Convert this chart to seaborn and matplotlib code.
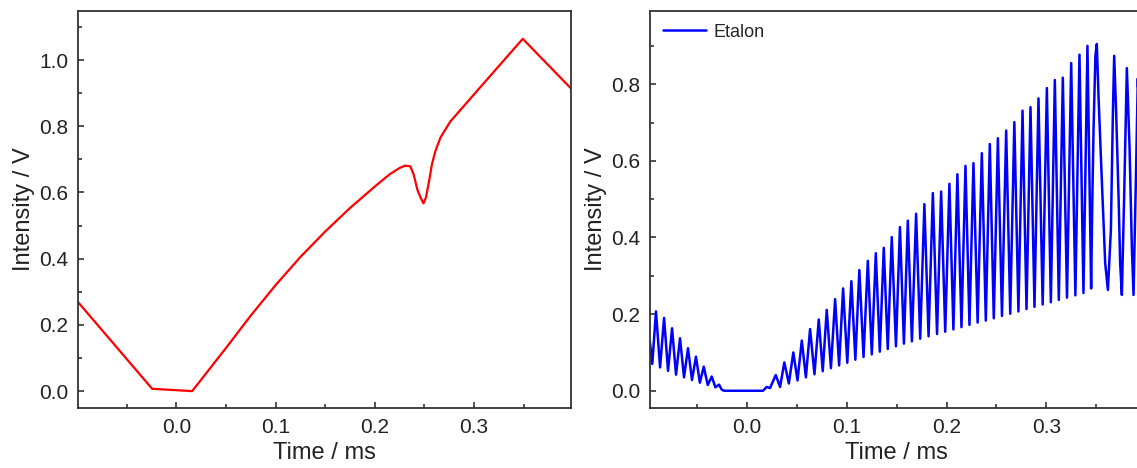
import matplotlib
matplotlib.use("Agg")
import matplotlib.pyplot as plt
import seaborn as sns
from matplotlib.ticker import MultipleLocator, FormatStrFormatter

# Left panel: laser scan with absorption dip
scan_time = [-0.099, -0.0243, 0.016, 0.05, 0.075, 0.10, 0.125, 0.15, 0.175, 0.20,
             0.215, 0.225, 0.2306, 0.2357, 0.239, 0.243, 0.246, 0.249, 0.2515, 0.255,
             0.2575, 0.261, 0.266, 0.270, 0.276, 0.285, 0.306, 0.349, 0.3976]
scan_intensity = [0.269, 0.007, 0.0, 0.13, 0.228, 0.32, 0.405, 0.482, 0.553, 0.618,
                  0.655, 0.674, 0.681, 0.679, 0.655, 0.607, 0.585, 0.567, 0.585, 0.64,
                  0.685, 0.725, 0.765, 0.785, 0.814, 0.845, 0.917, 1.064, 0.914]

# Right panel: etalon fringes (peaks and troughs)
etalon_time_fall = [-0.0975, -0.0950, -0.0913, -0.0872, -0.0832, -0.0792, -0.0752, -0.0712,
                    -0.0672, -0.0632, -0.0592, -0.0552, -0.0512, -0.0473, -0.0434, -0.0394,
                    -0.0354, -0.0317, -0.0281, -0.0254, -0.0230]
etalon_int_fall = [0.130, 0.070, 0.207, 0.061, 0.190, 0.052, 0.163, 0.042,
                   0.137, 0.035, 0.111, 0.028, 0.089, 0.021, 0.063, 0.015,
                   0.037, 0.009, 0.016, 0.003, 0.0]

etalon_time_rise = [0.0160, 0.0197, 0.0230, 0.0288, 0.0331, 0.0374, 0.0419, 0.0464, 0.0506,
                    0.0549, 0.0590, 0.0632, 0.0676, 0.0719, 0.0759, 0.0799, 0.0841, 0.0883,
                    0.0923, 0.0963, 0.1005, 0.1046, 0.1086, 0.1126, 0.1168, 0.1211, 0.1251,
                    0.1291, 0.1331, 0.1371, 0.1411, 0.1451, 0.1493, 0.1533, 0.1573, 0.1612,
                    0.1653, 0.1695, 0.1736, 0.1778, 0.1820, 0.1863, 0.1905, 0.1946, 0.1987,
                    0.2029, 0.2069, 0.2109, 0.2150, 0.2190, 0.2230, 0.2270, 0.2312, 0.2354,
                    0.2394, 0.2434, 0.2474, 0.2515, 0.2556, 0.2598, 0.2639, 0.2680, 0.2721,
                    0.2762, 0.2802, 0.2842, 0.2882, 0.2922, 0.2964, 0.3006, 0.3046, 0.3086,
                    0.3126, 0.3166, 0.3208, 0.3250, 0.3292, 0.3333, 0.3373, 0.3413]
etalon_int_rise = [0.0, 0.010, 0.007, 0.041, 0.010, 0.074, 0.019, 0.100, 0.027,
                   0.131, 0.035, 0.161, 0.043, 0.186, 0.051, 0.211, 0.059, 0.239,
                   0.066, 0.267, 0.073, 0.286, 0.081, 0.315, 0.088, 0.339, 0.095,
                   0.359, 0.102, 0.373, 0.109, 0.401, 0.116, 0.427, 0.123, 0.444,
                   0.129, 0.462, 0.136, 0.487, 0.142, 0.516, 0.148, 0.520, 0.154,
                   0.540, 0.160, 0.565, 0.166, 0.587, 0.172, 0.594, 0.178, 0.620,
                   0.183, 0.644, 0.189, 0.659, 0.195, 0.679, 0.201, 0.701, 0.207,
                   0.731, 0.213, 0.740, 0.219, 0.763, 0.225, 0.790, 0.231, 0.811,
                   0.237, 0.817, 0.243, 0.855, 0.249, 0.877, 0.255, 0.900]

# broad fringes around the scan turning point
etalon_time_turn = [0.3450, 0.3460, 0.3474, 0.3493, 0.3507, 0.3524, 0.3557, 0.3591, 0.3618,
                    0.3648, 0.3668, 0.3681, 0.3701, 0.3725, 0.3741, 0.3758, 0.3781, 0.3808,
                    0.3835, 0.3858, 0.3875, 0.3902, 0.3918, 0.3940, 0.3970]
etalon_int_turn = [0.267, 0.464, 0.681, 0.875, 0.905, 0.768, 0.550, 0.333, 0.263,
                   0.420, 0.724, 0.874, 0.724, 0.507, 0.333, 0.250, 0.507, 0.842,
                   0.637, 0.376, 0.250, 0.594, 0.815, 0.550, 0.300]

etalon_time = etalon_time_fall + etalon_time_rise + etalon_time_turn
etalon_int = etalon_int_fall + etalon_int_rise + etalon_int_turn

sns.set_theme(style="ticks")
plt.rcParams["font.family"] = ["Liberation Sans", "DejaVu Sans"]

fig = plt.figure(figsize=(11.37, 4.68), dpi=100)
ax1 = fig.add_axes([78 / 1137, 60 / 468, 493 / 1137, 397 / 468])
ax2 = fig.add_axes([650 / 1137, 60 / 468, 493 / 1137, 397 / 468])

sns.lineplot(x=scan_time, y=scan_intensity, ax=ax1, color="#ff0000", linewidth=1.6,
             sort=False, estimator=None)
sns.lineplot(x=etalon_time, y=etalon_int, ax=ax2, color="#0000ff", linewidth=1.8,
             sort=False, estimator=None, label="Etalon")

ax1.set_xlim(-0.099, 0.3976)
ax1.set_ylim(-0.051, 1.148)
ax2.set_xlim(-0.0973, 0.397)
ax2.set_ylim(-0.045, 0.991)

for ax in (ax1, ax2):
    ax.xaxis.set_major_locator(MultipleLocator(0.1))
    ax.xaxis.set_minor_locator(MultipleLocator(0.05))
    ax.yaxis.set_major_locator(MultipleLocator(0.2))
    ax.yaxis.set_minor_locator(MultipleLocator(0.1))
    ax.xaxis.set_major_formatter(FormatStrFormatter("%.1f"))
    ax.yaxis.set_major_formatter(FormatStrFormatter("%.1f"))
    ax.tick_params(which="both", direction="in", top=False, right=False,
                   colors="#222222", labelsize=15, width=1.1)
    ax.tick_params(which="major", length=4.5, pad=7)
    ax.tick_params(which="minor", length=2.8)
    for sp in ax.spines.values():
        sp.set_visible(True)
        sp.set_linewidth(1.3)
        sp.set_color("#333333")
    ax.set_xlabel("Time / ms", fontsize=17, color="#222222", labelpad=4)
    ax.set_ylabel("Intensity / V", fontsize=17, color="#222222", labelpad=3)

ax2.legend(loc="upper left", frameon=False, fontsize=13, handlelength=2.4,
           handletextpad=0.4, borderaxespad=0.3, bbox_to_anchor=(0.0, 1.0))

fig.savefig("out.png", dpi=100)
